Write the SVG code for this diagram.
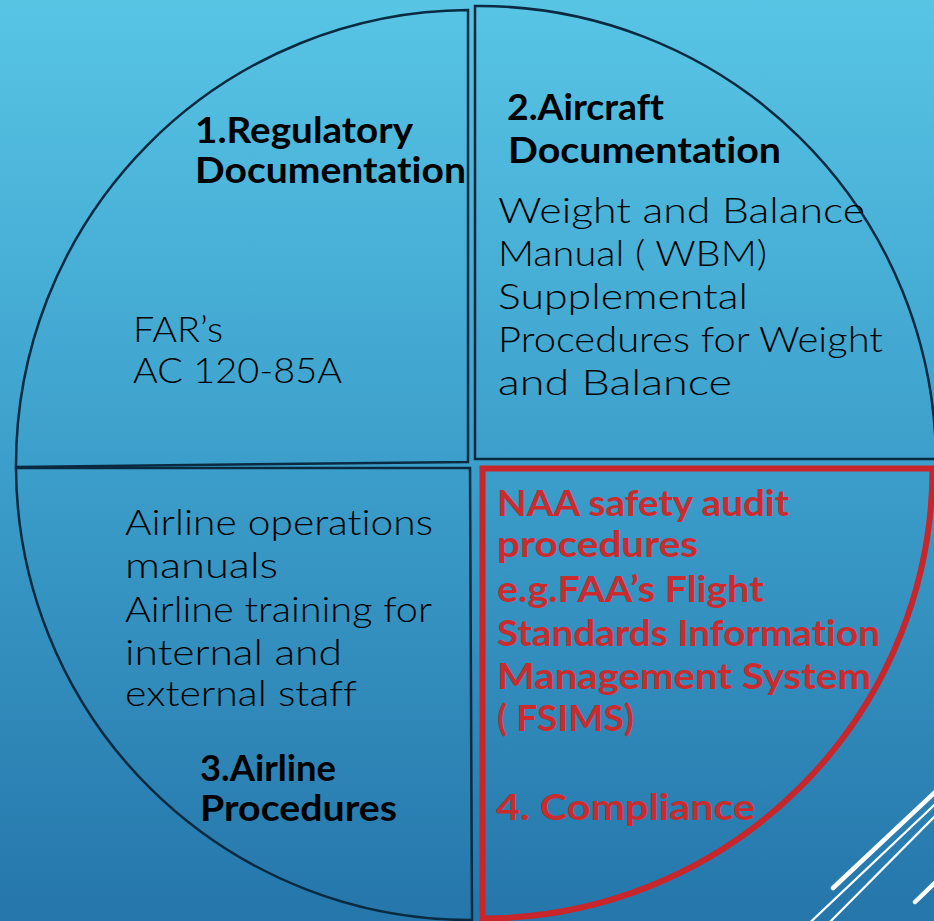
<svg xmlns="http://www.w3.org/2000/svg" width="934" height="921" viewBox="0 0 934 921">
  <defs>
    <linearGradient id="bg" x1="0" y1="0" x2="0" y2="1">
      <stop offset="0" stop-color="#58c5e5"/>
      <stop offset="0.5" stop-color="#3c9fcb"/>
      <stop offset="1" stop-color="#2576aa"/>
    </linearGradient>
    <style>
      .q { fill: none; stroke: #0a2a42; stroke-width: 2.5; stroke-linejoin: miter; }
      .qr { fill: none; stroke: #c8262b; stroke-width: 6; stroke-linejoin: miter; }
      .t { font-family: Lato, "Liberation Sans", sans-serif; font-size: 36px; font-weight: 300; fill: #000; font-variant-ligatures: none; }
      .b { font-family: Lato, "Liberation Sans", sans-serif; font-size: 36px; font-weight: 700; fill: #000; font-variant-ligatures: none; }
      .r { fill: #cc2b2e; }
      .w { stroke: #ffffff; fill: none; stroke-linecap: round; }
    </style>
  </defs>
  <rect x="0" y="0" width="934" height="921" fill="url(#bg)"/>

  <g id="decor">
    <line class="w" x1="833" y1="888" x2="950" y2="778" stroke-width="4.5"/>
    <line class="w" x1="800" y1="932" x2="950" y2="790" stroke-width="2.2"/>
    <line class="w" x1="820" y1="932" x2="950" y2="801" stroke-width="2.2"/>
    <line class="w" x1="915" y1="902" x2="950" y2="868" stroke-width="4.5"/>
  </g>

  <g id="q1-regulatory">
    <path class="q" d="M 468 462 L 16 467 A 455 455 0 0 1 468 10 Z"/>
    <text class="b" x="195" y="143" textLength="218" lengthAdjust="spacingAndGlyphs">1.Regulatory</text>
    <text class="b" x="195" y="183" textLength="271" lengthAdjust="spacingAndGlyphs">Documentation</text>
    <text class="t" x="133" y="342" textLength="90" lengthAdjust="spacingAndGlyphs">FAR’s</text>
    <text class="t" x="133" y="383" textLength="209" lengthAdjust="spacingAndGlyphs">AC 120-85A</text>
  </g>

  <g id="q2-aircraft">
    <path class="q" d="M 475 459 L 475 6 A 457 457 0 0 1 936 459 Z"/>
    <text class="b" x="507" y="120" textLength="157" lengthAdjust="spacingAndGlyphs">2.Aircraft</text>
    <text class="b" x="508" y="163" textLength="273" lengthAdjust="spacingAndGlyphs">Documentation</text>
    <text class="t" x="498" y="223" textLength="367" lengthAdjust="spacingAndGlyphs">Weight and Balance</text>
    <text class="t" x="498" y="266" textLength="269" lengthAdjust="spacingAndGlyphs">Manual ( WBM)</text>
    <text class="t" x="498" y="309" textLength="250" lengthAdjust="spacingAndGlyphs">Supplemental</text>
    <text class="t" x="498" y="352" textLength="385" lengthAdjust="spacingAndGlyphs">Procedures for Weight</text>
    <text class="t" x="498" y="395" textLength="234" lengthAdjust="spacingAndGlyphs">and Balance</text>
  </g>

  <g id="q3-airline">
    <path class="q" d="M 470 468 L 16 468 A 454 454 0 0 0 472 920 Z"/>
    <text class="t" x="125" y="535" textLength="308" lengthAdjust="spacingAndGlyphs">Airline operations</text>
    <text class="t" x="125" y="578" textLength="153" lengthAdjust="spacingAndGlyphs">manuals</text>
    <text class="t" x="125" y="622" textLength="307" lengthAdjust="spacingAndGlyphs">Airline training for</text>
    <text class="t" x="125" y="665" textLength="217" lengthAdjust="spacingAndGlyphs">internal and</text>
    <text class="t" x="125" y="706" textLength="232" lengthAdjust="spacingAndGlyphs">external staff</text>
    <text class="b" x="200" y="781" textLength="136" lengthAdjust="spacingAndGlyphs">3.Airline</text>
    <text class="b" x="200" y="821" textLength="197" lengthAdjust="spacingAndGlyphs">Procedures</text>
  </g>

  <g id="q4-compliance">
    <path class="qr" d="M 482.5 468.5 L 932.5 468.5 A 450 450 0 0 1 482.5 918.5 Z"/>
    <text class="b r" x="497" y="516" textLength="292" lengthAdjust="spacingAndGlyphs">NAA safety audit</text>
    <text class="b r" x="497" y="557" textLength="201" lengthAdjust="spacingAndGlyphs">procedures</text>
    <text class="b r" x="497" y="602" textLength="267" lengthAdjust="spacingAndGlyphs">e.g.FAA’s Flight</text>
    <text class="b r" x="497" y="646" textLength="383" lengthAdjust="spacingAndGlyphs">Standards Information</text>
    <text class="b r" x="497" y="689" textLength="374" lengthAdjust="spacingAndGlyphs">Management System</text>
    <text class="b r" x="497" y="731" textLength="137" lengthAdjust="spacingAndGlyphs">( FSIMS)</text>
    <text class="b r" x="496" y="820" textLength="259" lengthAdjust="spacingAndGlyphs">4. Compliance</text>
  </g>
</svg>
